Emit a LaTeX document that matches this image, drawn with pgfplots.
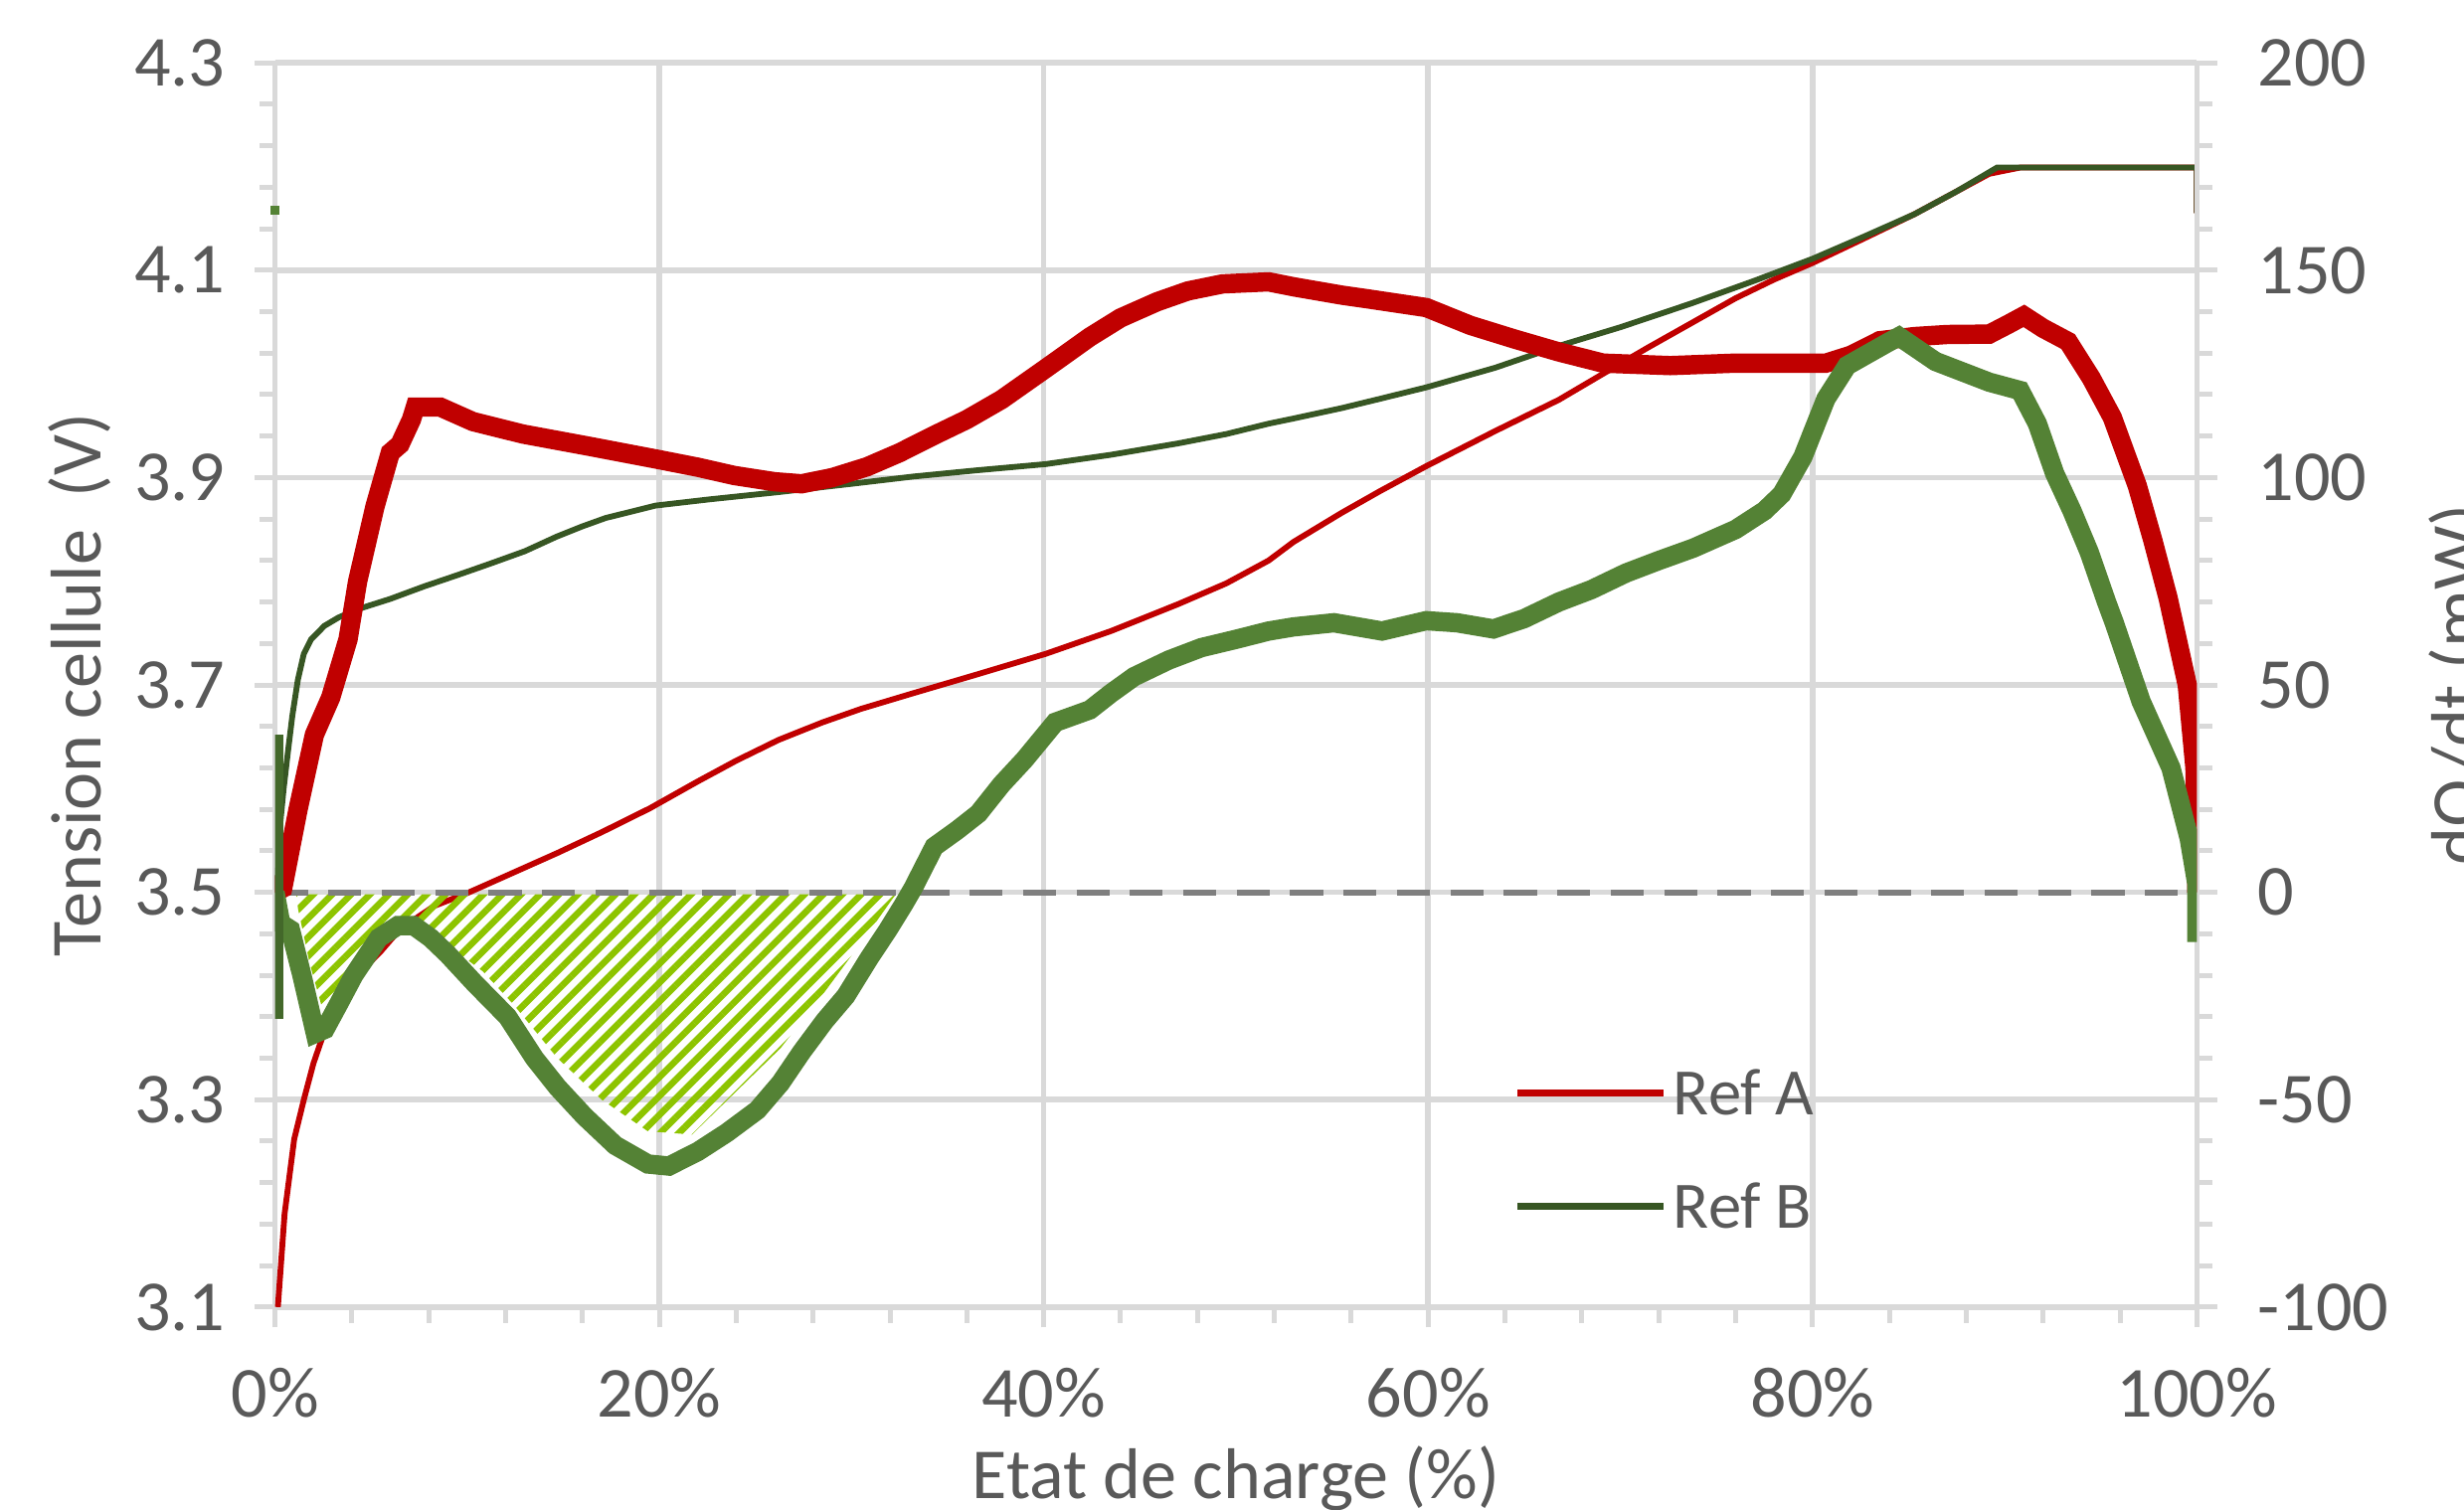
\documentclass[border=0pt]{standalone}
\usepackage{fontspec}
\setmainfont{Carlito}
\usepackage{pgfplots}
\pgfplotsset{compat=1.18}
\usetikzlibrary{patterns.meta}
\definecolor{refA}{HTML}{C00000}
\definecolor{refBv}{HTML}{375623}
\definecolor{refBd}{HTML}{548235}
\definecolor{hatchc}{HTML}{8DC400}
\definecolor{gridc}{HTML}{D9D9D9}
\definecolor{txtc}{HTML}{595959}
\definecolor{dashc}{HTML}{7F7F7F}
\newcommand{\lblfont}{\fontsize{13}{15.6}\selectfont}
\newcommand{\legfont}{\fontsize{12}{14.4}\selectfont}
\pgfplotsset{
  base/.style={
    scale only axis, width=122.3mm, height=79.2mm,
    at={(0mm,0mm)}, anchor=south west,
    xmin=0, xmax=100,
    tick align=outside,
    major tick length=1.3mm, minor tick length=1.0mm,
    every tick/.style={gridc, line width=0.9pt},
    axis line style={gridc, line width=1pt},
    tick label style={font=\lblfont, text=txtc},
    label style={font=\lblfont, text=txtc},
  },
}
\begin{document}
\begin{tikzpicture}
\begin{axis}[base,
  ymin=3.1, ymax=4.3,
  axis x line*=bottom, axis y line*=left,
  xtick={0,20,40,60,80,100},
  xticklabels={0\%,20\%,40\%,60\%,80\%,100\%},
  minor x tick num=4,
  ytick={3.1,3.3,3.5,3.7,3.9,4.1,4.3},
  yticklabels={3.1,3.3,3.5,3.7,3.9,4.1,4.3},
  minor y tick num=4,
  grid=major, major grid style={gridc, line width=1pt},
  xticklabel style={anchor=north, inner sep=0pt, yshift=-2.5mm},
  yticklabel style={anchor=east, inner sep=0pt, xshift=-1.8mm},
  xlabel={Etat de charge (\%)},
  ylabel={Tension cellule\ \ (V)},
  xlabel style={at={(axis description cs:0.5,-0.1111)}, anchor=north, inner sep=0pt},
  ylabel style={at={(axis description cs:-0.1186,0.5)}, anchor=north, inner sep=0pt},
  legend cell align=left,
  legend style={draw=none, fill=none, inner xsep=0pt, inner ysep=0pt,
    at={(rel axis cs:0.6443,0.1265)}, anchor=west,
    font=\legfont, text=txtc,
    nodes={inner sep=0pt, text height=9pt, text depth=1pt},
    row sep=3.72mm, column sep=0.4mm},
  legend image code/.code={\draw[#1, line width=1.2pt] (0mm,0mm) -- (9.3mm,0mm);},
]
% Ref A voltage
\addplot[refA, line width=1.05pt] coordinates {
(0.15,3.10) (0.5,3.19) (1.0,3.262) (1.5,3.30) (2.0,3.335) (2.5,3.362) (3.2,3.388)
(4.0,3.413) (4.6,3.426) (5.5,3.443) (6.2,3.458) (7.1,3.472) (8.3,3.487) (10.1,3.50)
(12.4,3.519) (14.7,3.538) (17,3.558) (19.5,3.581) (22,3.607) (24,3.627) (26.2,3.647)
(28.5,3.664) (30.5,3.677) (33.2,3.692) (36.5,3.71) (40.1,3.730) (43.5,3.752) (47,3.778)
(49.5,3.798) (51.7,3.82) (53,3.838) (55.5,3.866) (57.5,3.887) (59.9,3.911) (63.5,3.945)
(66.8,3.975) (69,3.999) (71.4,4.025) (73.7,4.049) (76,4.073) (78,4.091) (80,4.107)
(82.5,4.129) (85.3,4.154) (87.5,4.176) (89.2,4.193) (90.8,4.199) (100,4.199) (100,4.155)
};
\addlegendentry{Ref A}
% Ref B voltage
\addplot[refBv, line width=1.05pt] coordinates {
(0.13,3.50) (0.24,3.56) (0.45,3.60) (0.67,3.635) (0.9,3.67) (1.19,3.705) (1.5,3.73)
(1.88,3.744) (2.57,3.757) (3.3,3.765) (4.3,3.773) (6,3.783) (7.75,3.795) (9.5,3.806)
(11.2,3.817) (13,3.829) (14.65,3.843) (16,3.853) (17.2,3.861) (18.5,3.867) (19.8,3.873)
(22.6,3.879) (26.2,3.886) (30,3.894) (33.2,3.901) (36.5,3.907) (40.1,3.913) (43.5,3.922)
(47,3.933) (49.5,3.942) (51.7,3.952) (53,3.957) (55.5,3.967) (57.5,3.976) (59.9,3.987)
(63.5,4.006) (66.8,4.027) (70,4.045) (73.7,4.068) (77,4.09) (80,4.111) (82.5,4.131)
(85.3,4.154) (87.5,4.176) (89.6,4.199) (100,4.199) (100,4.155)
};
\addlegendentry{Ref B}
\addplot[only marks, mark=square*, mark size=0.6pt, refBd, forget plot] coordinates {(0,4.158)};
\end{axis}
\begin{axis}[base,
  ymin=-100, ymax=200,
  axis y line*=right, axis x line=none,
  ytick={-100,-50,0,50,100,150,200},
  yticklabels={-100,-50,0,50,100,150,200},
  minor y tick num=4,
  yticklabel style={anchor=west, inner sep=0pt, xshift=2.5mm},
  ylabel={dQ/dt (mW)},
  ylabel style={at={(axis description cs:1.1202,0.5)}, anchor=north, inner sep=0pt},
]
% hatched area
\addplot[draw=none, pattern={Lines[angle=45, distance=0.85mm, line width=0.42mm]}, pattern color=hatchc, forget plot] coordinates {
(1.1,-0.5) (1.2,-4) (1.8,-17) (2.4,-27) (3.2,-25.6) (4.0,-19) (4.8,-13.6) (5.5,-10.4)
(6.7,-8) (7.8,-8.8) (9,-12.8) (10.8,-19) (12.4,-27) (14.7,-40) (17,-50) (19.4,-57.6)
(21.7,-58.4) (24,-48) (26.3,-37.6) (28.6,-24) (30.9,-9.6) (32,-2.4) (32.3,-0.5)
} -- cycle;
% zero line
\addplot[dashc, line width=1.1pt, dash pattern=on 2.1mm off 1.3mm, forget plot] coordinates {(0,0) (100,0)};
% Ref A dQ/dt
\addplot[refA, line width=3.5pt, forget plot] coordinates {
(0,0) (0.4,1) (1.2,20) (2.05,38) (2.9,47) (3.8,61) (4.3,75) (5.2,93) (6.0,106) (6.5,108)
(7.1,114) (7.3,117) (8.6,117) (10.3,113.5) (12.9,110.5) (16.4,107.5) (19.8,104.5) (22,102.5)
(23.9,100.5) (26,99) (27.4,98.5) (29,100) (30.8,102.6) (32.5,106) (34.3,110.2) (36,114)
(37.8,118.8) (40.1,126.3) (42.4,133.9) (44,138.5) (45.9,142.4) (47.5,145) (49.3,146.7)
(51.7,147.2) (53,146) (55.5,144) (57,143) (59.9,141) (62.2,136.7) (64.5,133.4) (66.8,130.3)
(69.1,127.6) (72.6,127) (76,127.6) (80.7,127.6) (82,129.5) (83.5,133) (85.3,134) (87,134.5)
(89.2,134.6) (90.2,137) (91,139) (92,136) (93.3,132.8) (94.5,124) (95.6,114.5) (96.9,98)
(97.7,85) (98.5,71) (99.5,50) (99.9,30) (100,0)
};
% Ref B dQ/dt
\addplot[refBd, line width=3.5pt, forget plot] coordinates {
(0,0) (0.3,-7.5) (0.8,-9) (1.4,-20) (2.1,-34) (2.6,-33) (3.3,-27) (4.1,-20) (5.4,-11)
(6.4,-8) (7.2,-8) (8.1,-11) (9,-15) (10.4,-22) (12.1,-30) (13.5,-40) (14.7,-47) (16.1,-54)
(17.7,-61) (19.4,-65.5) (20.5,-66) (22,-62.5) (23.5,-58) (25.1,-52.5) (26.3,-46) (27.4,-38.5)
(28.6,-31) (29.7,-25) (30.9,-16) (31.9,-9) (32.7,-3) (33.2,1) (34.3,11) (35.5,15) (36.6,19)
(37.8,26) (39,32) (40.6,41) (42.4,44) (43.5,48) (44.7,52) (46.5,56) (48.2,59) (50,61)
(51.7,63) (53,64) (55.1,65) (57.6,63) (59.9,65.5) (61.5,65) (63.4,63.5) (65,66) (66.8,70)
(68.5,73) (70.3,77) (72,80) (73.8,83) (76,87.5) (77.5,92) (78.4,96) (79.5,105) (80.7,119)
(81.8,127) (83.9,132.5) (84.5,134) (86.4,128) (89.2,123) (90.8,121) (91.7,113) (92.6,101)
(93.5,92) (94.4,82) (95.3,70) (95.7,65) (97.1,46) (98.65,30) (99.6,13) (100,2) (100,-12)
};
% spike at origin
\addplot[refBd!80!black, line width=3pt, forget plot] coordinates {(0,38) (0,-30.5)};
\end{axis}
\pgfresetboundingbox
\path[use as bounding box] (-17.5mm,-12.9mm) rectangle (139.3mm,83.2mm);
\end{tikzpicture}
\end{document}
